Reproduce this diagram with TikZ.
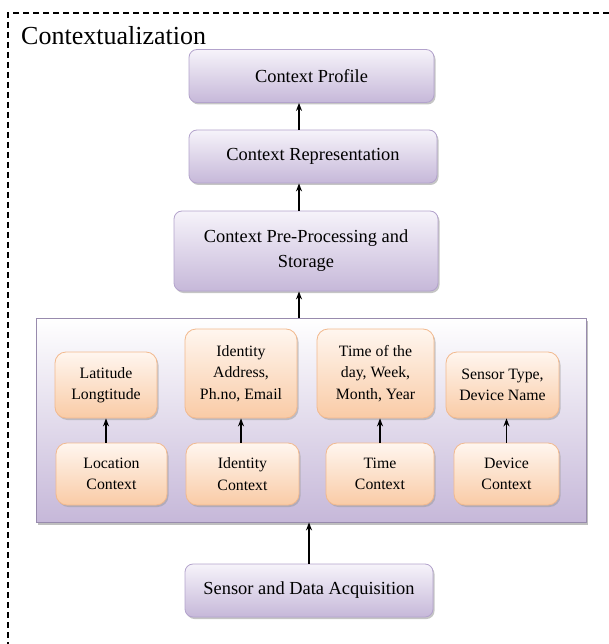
\documentclass[tikz,border=0pt]{standalone}
\usepackage{fontspec}
\setmainfont{Liberation Serif}
\usetikzlibrary{arrows.meta,shadows}

\definecolor{lilacTop}{HTML}{F6F3FA}
\definecolor{lilacBot}{HTML}{C6B8D9}
\definecolor{lilacLine}{HTML}{B3A3CC}
\definecolor{peachTop}{HTML}{FFF6EF}
\definecolor{peachBot}{HTML}{F9CBA6}
\definecolor{peachLine}{HTML}{F2B98E}

\tikzset{
  stage/.style={draw=lilacLine, line width=0.8pt, rounded corners=8pt,
    top color=lilacTop, bottom color=lilacBot, align=center, inner sep=0pt,
    font=\fontsize{18.4}{25}\selectfont,
    drop shadow={shadow xshift=1.5pt, shadow yshift=-2pt, fill=black!45, opacity=0.5}},
  ctxbox/.style={draw=peachLine, line width=0.8pt, rounded corners=11pt,
    top color=peachTop, bottom color=peachBot, align=center, inner sep=0pt,
    font=\fontsize{15.8}{21.5}\selectfont,
    drop shadow={shadow xshift=1.5pt, shadow yshift=-2pt, fill=black!40, opacity=0.5}},
  panel/.style={draw=lilacLine!85!black, line width=0.8pt,
    top color=white, bottom color=lilacBot, inner sep=0pt,
    drop shadow={shadow xshift=2pt, shadow yshift=-2.5pt, fill=black!50, opacity=0.5}},
  arr/.style={-{Stealth[length=8pt,width=6pt]}, line width=1.4pt}
}

\begin{document}
\begin{tikzpicture}[x=1pt,y=-1pt]
   \useasboundingbox (0,0) rectangle (609,644);

   \draw [dashed, dash pattern=on 6pt off 4pt, line width=1.2pt] (609,13) -- (8,13) -- (8,644);
   \node (Title) at (21,45) [anchor=base west, inner sep=0pt, font=\fontsize{26}{30}\selectfont] {Contextualization};

   \node (Profile) at (311.5,76) [stage, minimum width=245pt, minimum height=53pt] {Context Profile};
   \node (Representation) at (313,156.5) [stage, minimum width=248pt, minimum height=53pt] {Context Representation};
   \node (PreProcessing) at (306,251) [stage, minimum width=264pt, minimum height=80pt] {Context Pre-Processing and\\Storage};

   \node (Panel) at (311,420) [panel, minimum width=550pt, minimum height=204pt] {};

   \node (LatLong) at (106,385) [ctxbox, minimum width=102pt, minimum height=66pt] {Latitude\\Longtitude};
   \node (IdentityData) at (241,373.5) [ctxbox, minimum width=112pt, minimum height=89pt] {Identity\\Address,\\Ph.no, Email};
   \node (TimeData) at (375.5,373.5) [ctxbox, minimum width=117pt, minimum height=89pt] {Time of the\\day, Week,\\Month, Year};
   \node (DeviceData) at (502.5,385) [ctxbox, minimum width=113pt, minimum height=66pt] {Sensor Type,\\Device Name};

   \node (Location) at (111.5,474) [ctxbox, minimum width=111pt, minimum height=62pt] {Location\\Context};
   \node (Identity) at (242.5,474) [ctxbox, minimum width=113pt, minimum height=62pt] {Identity\\Context};
   \node (Time) at (380,474) [ctxbox, minimum width=108pt, minimum height=62pt] {Time\\Context};
   \node (Device) at (506.5,474) [ctxbox, minimum width=105pt, minimum height=62pt] {Device\\Context};

   \node (Acquisition) at (309,590.5) [stage, minimum width=248pt, minimum height=53pt] {Sensor and Data Acquisition};

   \coordinate (Axis) at (299,0);

   \draw [arr] (Representation.north -| Axis) -- (Profile.south -| Axis);
   \draw [arr] (PreProcessing.north -| Axis) -- (Representation.south -| Axis);
   \draw [arr] (Panel.north -| Axis) -- (PreProcessing.south -| Axis);

   \draw [arr] (LatLong.south |- Location.north) -- (LatLong.south);
   \draw [arr] (IdentityData.south |- Identity.north) -- (IdentityData.south);
   \draw [arr] (Time.north) -- (Time.north |- TimeData.south);
   \draw [arr] (Device.north) -- (Device.north |- DeviceData.south);

   \draw [arr] (Acquisition.north) -- (Acquisition.north |- Panel.south);

\end{tikzpicture}
\end{document}
